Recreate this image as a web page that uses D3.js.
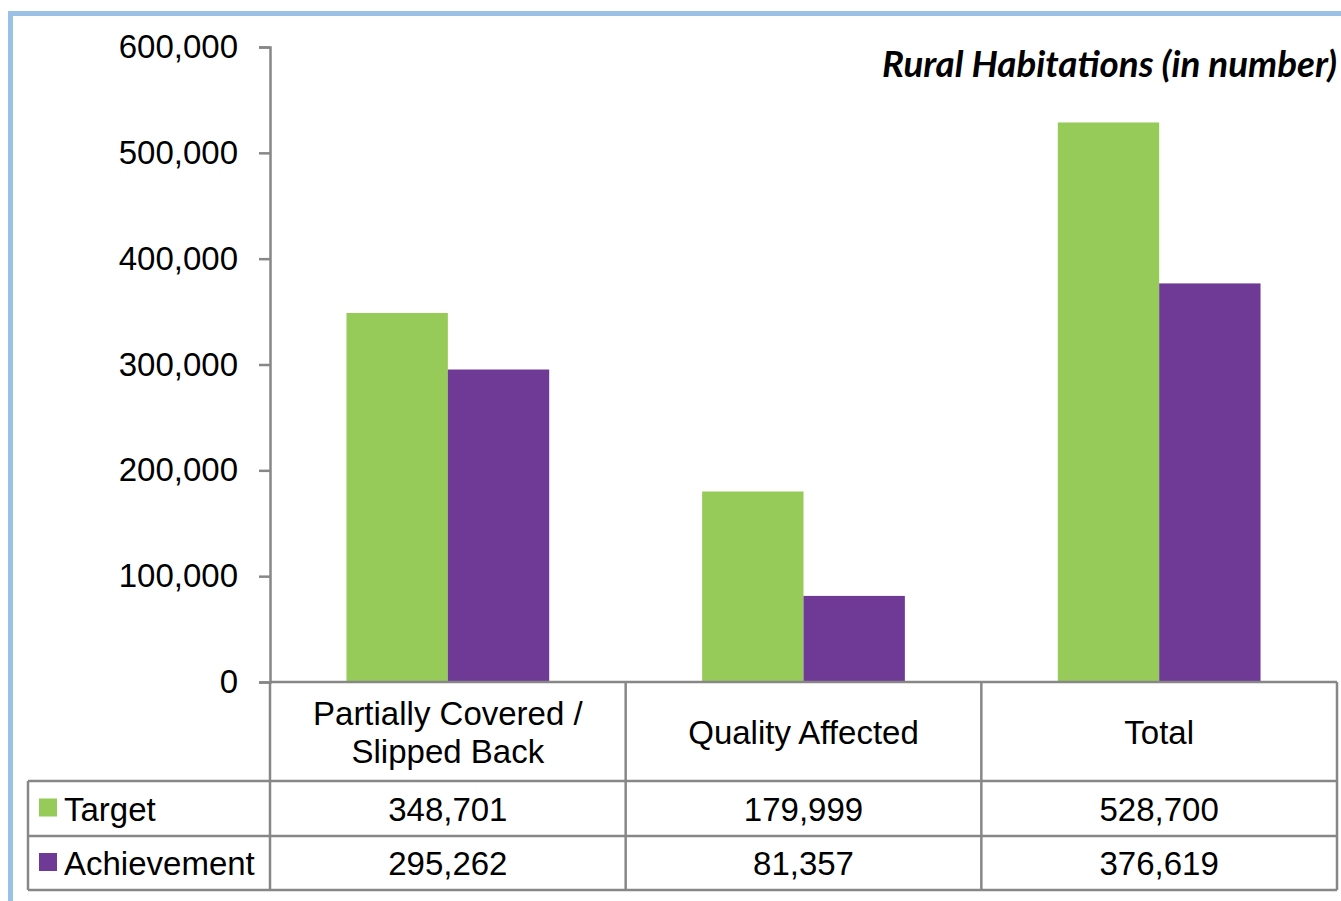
<!DOCTYPE html>
<html>
<head>
<meta charset="utf-8">
<script src="https://cdn.jsdelivr.net/npm/d3@7"></script>
<style>
  html, body { margin: 0; padding: 0; background: #fff; overflow: hidden; }
  svg { display: block; }
</style>
</head>
<body>
<div id="chart"></div>
<script>
// 数据
const categories = ['Partially Covered / Slipped Back', 'Quality Affected', 'Total']
const categoryLines = [['Partially Covered /', 'Slipped Back'], ['Quality Affected'], ['Total']]
const seriesNames = ['Target', 'Achievement']
const targetValues = [348701, 179999, 528700]
const achievementValues = [295262, 81357, 376619]
const yTicks = [0, 100000, 200000, 300000, 400000, 500000, 600000]
const title = 'Rural Habitations (in number)'

const colors = ['#96CA59', '#6F3996']
const gridColor = '#878787'
const font = '"Liberation Sans", Arial, sans-serif'

const width = 1341, height = 901
const plot = { left: 270, right: 1337, top: 47, bottom: 682 }
const table = { left: 28, rowHeader: 781, row1: 836, bottom: 890 }

const svg = d3.select('#chart').append('svg')
  .attr('width', width)
  .attr('height', height)

// 外框
svg.append('rect')
  .attr('x', 10.5).attr('y', 13.5)
  .attr('width', 1400).attr('height', 1000)
  .attr('fill', 'none')
  .attr('stroke', '#9BC2E6')
  .attr('stroke-width', 5)

const x0 = d3.scaleBand()
  .domain(categories)
  .range([plot.left, plot.right])
  .paddingInner(0.43)
  .paddingOuter(0.215)

const x1 = d3.scaleBand()
  .domain(seriesNames)
  .range([0, x0.bandwidth()])

const y = d3.scaleLinear()
  .domain([0, 600000])
  .range([plot.bottom, plot.top])

// 柱子
const seriesData = [targetValues, achievementValues]
const groups = svg.append('g').selectAll('g')
  .data(categories)
  .join('g')
  .attr('transform', d => `translate(${x0(d)},0)`)

groups.selectAll('rect')
  .data((d, i) => seriesNames.map((s, j) => ({ s, v: seriesData[j][i], j })))
  .join('rect')
  .attr('x', d => x1(d.s))
  .attr('y', d => y(d.v))
  .attr('width', x1.bandwidth())
  .attr('height', d => y(0) - y(d.v))
  .attr('fill', d => colors[d.j])

// y轴
const yAxis = svg.append('g')
  .attr('transform', `translate(${plot.left},0)`)
  .call(d3.axisLeft(y).tickValues(yTicks).tickFormat(d3.format(',')).tickSize(11).tickPadding(21))
yAxis.select('.domain').attr('stroke', gridColor).attr('stroke-width', 2.5)
yAxis.selectAll('.tick line').attr('stroke', gridColor).attr('stroke-width', 2.5)
yAxis.selectAll('.tick text')
  .attr('fill', '#000')
  .style('font-family', font)
  .style('font-size', '33px')

// 标题 (按宽度调整字号)
const titleText = svg.append('text')
  .attr('x', 1337)
  .attr('y', 77)
  .attr('text-anchor', 'end')
  .style('font-family', 'Lato, "Open Sans", sans-serif')
  .style('font-weight', 'bold')
  .style('font-style', 'italic')
  .style('font-size', '30px')
  .attr('fill', '#000')
  .text(title)
const tw = titleText.node().getComputedTextLength()
if (tw > 0) titleText.style('font-size', `${30 * 455 / tw}px`)

// 数据表
const tg = svg.append('g')
const line = (x1p, y1p, x2p, y2p) => tg.append('line')
  .attr('x1', x1p).attr('y1', y1p).attr('x2', x2p).attr('y2', y2p)
  .attr('stroke', gridColor).attr('stroke-width', 2.5)

line(plot.left, plot.bottom, plot.right, plot.bottom)
line(table.left, table.rowHeader, plot.right, table.rowHeader)
line(table.left, table.row1, plot.right, table.row1)
line(table.left, table.bottom, plot.right, table.bottom)
line(table.left, table.rowHeader, table.left, table.bottom)
line(plot.left, plot.bottom, plot.left, table.bottom)
categories.forEach((c, i) => {
  const xr = plot.left + (plot.right - plot.left) * (i + 1) / categories.length
  line(xr, plot.bottom, xr, table.bottom)
})

const colW = (plot.right - plot.left) / categories.length
// 表头
categoryLines.forEach((lines, i) => {
  const cx = plot.left + colW * (i + 0.5)
  const mid = (plot.bottom + table.rowHeader) / 2
  const lh = 38
  lines.forEach((t, k) => {
    tg.append('text')
      .attr('x', cx)
      .attr('y', mid + (k - (lines.length - 1) / 2) * lh + 12)
      .attr('text-anchor', 'middle')
      .style('font-family', font)
      .style('font-size', '33px')
      .text(t)
  })
})

// 行
const rowMids = [(table.rowHeader + table.row1) / 2, (table.row1 + table.bottom) / 2]
seriesNames.forEach((s, j) => {
  tg.append('rect')
    .attr('x', 39).attr('y', rowMids[j] - 10)
    .attr('width', 18).attr('height', 18)
    .attr('fill', colors[j])
  tg.append('text')
    .attr('x', 64).attr('y', rowMids[j] + 12)
    .style('font-family', font)
    .style('font-size', '33px')
    .text(s)
  seriesData[j].forEach((v, i) => {
    tg.append('text')
      .attr('x', plot.left + colW * (i + 0.5))
      .attr('y', rowMids[j] + 12)
      .attr('text-anchor', 'middle')
      .style('font-family', font)
      .style('font-size', '33px')
      .text(d3.format(',')(v))
  })
})
</script>
</body>
</html>
